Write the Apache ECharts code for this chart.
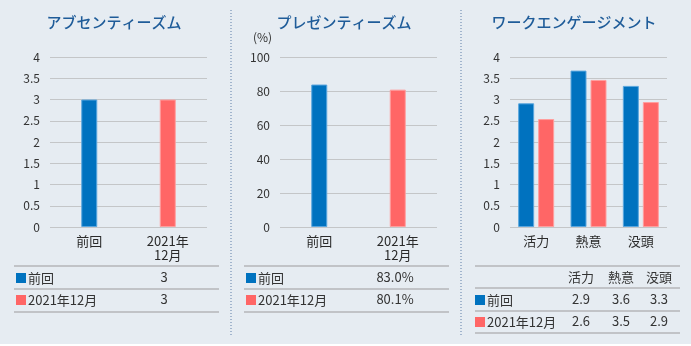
<!DOCTYPE html>
<html><head><meta charset="utf-8">
<script src="https://cdn.jsdelivr.net/npm/echarts@6/dist/echarts.min.js"></script>
<style>html,body{margin:0;padding:0;background:#fff;}#c{width:691px;height:346px;}</style>
</head><body><div id="c"></div>
<script>
// ---- data ----
const titles = ['アブセンティーズム', 'プレゼンティーズム', 'ワークエンゲージメント'];
const seriesNames = ['前回', '2021年12月'];
const absCategories = ['前回', '2021年\n12月'];
const absPrev = [3.0, null];
const absCur = [null, 3.0];
const absTable = ['3', '3'];
const preCategories = ['前回', '2021年\n12月'];
const prePrev = [83.8, null];
const preCur = [null, 80.8];
const preTable = ['83.0%', '80.1%'];
const engCategories = ['活力', '熱意', '没頭'];
const engPrev = [2.91, 3.68, 3.32];
const engCur = [2.54, 3.46, 2.94];
const engTablePrev = ['2.9', '3.6', '3.3'];
const engTableCur = ['2.6', '3.5', '2.9'];
const absTicks = [0, 4, 0.5];
const preTicks = [0, 100, 20];
const engTicks = [0, 4, 0.5];

const FONT = '"Noto Sans CJK JP", "Noto Sans", sans-serif';
const BLUE = '#0072bf', RED = '#ff6666';
const TXT = '#333333';
const chart = echarts.init(document.getElementById('c'));

const offsets = [0, 230, 460];
const grids = offsets.map(o => ({left: o + 50, width: 157, top: 57, height: 170}));
const cats = [absCategories, preCategories, engCategories];
const ticks = [absTicks, preTicks, engTicks];

const xAxes = cats.map((c, i) => ({
  type: 'category', gridIndex: i, data: c,
  axisLine: {show: false}, axisTick: {show: false},
  axisLabel: {color: '#2a2a2a', fontFamily: FONT, fontSize: 13, lineHeight: 14, margin: 7, interval: 0}
}));
const yAxes = ticks.map((t, i) => ({
  type: 'value', gridIndex: i, min: t[0], max: t[1], interval: t[2],
  axisLine: {show: false}, axisTick: {show: false},
  axisLabel: {color: TXT, fontFamily: FONT, fontSize: 12, margin: 10},
  splitLine: {lineStyle: {color: '#c4c6c8', width: 1}}
}));

function bar(name, data, i, color, border, extra) {
  return Object.assign({
    type: 'bar', name, data, xAxisIndex: i, yAxisIndex: i,
    barWidth: 16,
    itemStyle: {color, borderColor: border, borderWidth: 1}
  }, extra || {});
}
const series = [
  bar(seriesNames[0], absPrev, 0, BLUE, '#5aa6de', {barGap: '-100%'}),
  bar(seriesNames[1], absCur, 0, RED, '#ff9e9e', {barGap: '-100%'}),
  bar(seriesNames[0], prePrev, 1, BLUE, '#5aa6de', {barGap: '-100%'}),
  bar(seriesNames[1], preCur, 1, RED, '#ff9e9e', {barGap: '-100%'}),
  bar(seriesNames[0], engPrev, 2, BLUE, '#5aa6de', {barGap: '25%'}),
  bar(seriesNames[1], engCur, 2, RED, '#ff9e9e', {barGap: '25%'})
];

const g = [];
// titles
offsets.forEach((o, i) => {
  g.push({type: 'text', x: o + 114, y: 22, style: {
    text: titles[i], align: 'center', verticalAlign: 'middle', font: '500 15px ' + FONT, fill: '#1f5c99'}, z: 10});
});
// separators
[231, 461].forEach(x => g.push({type: 'line', shape: {x1: x, y1: 10, x2: x, y2: 335},
  style: {stroke: '#5f7fa8', lineWidth: 1, lineDash: [1, 2]}}));
// (%) label
g.push({type: 'text', x: 253, y: 37, style: {text: '(%)', font: '12px ' + FONT, fill: TXT, verticalAlign: 'middle'}});

function hline(x1, x2, y) {
  g.push({type: 'line', shape: {x1, y1: y, x2, y2: y}, style: {stroke: '#b4b6b8', lineWidth: 1.5}});
}
function legendRow(x, yc, color, label) {
  g.push({type: 'rect', shape: {x: x, y: yc - 5, width: 10, height: 10}, style: {fill: color}});
  g.push({type: 'text', x: x + 12, y: yc, style: {text: label, font: '13px ' + FONT, fill: TXT, verticalAlign: 'middle'}});
}
function cell(x, yc, t) {
  g.push({type: 'text', x, y: yc, style: {text: t, font: '13px ' + FONT, fill: TXT, align: 'center', verticalAlign: 'middle'}});
}
// tables 1 and 2
[[0, absTable, 164], [230, preTable, 165]].forEach(([o, vals, cx]) => {
  hline(o + 14, o + 219, 266); hline(o + 14, o + 219, 289); hline(o + 14, o + 219, 312);
  legendRow(o + 16, 278, BLUE, seriesNames[0]);
  legendRow(o + 16, 300, RED, seriesNames[1]);
  cell(o + cx, 277, vals[0]);
  cell(o + cx, 299, vals[1]);
});
// table 3
const o3 = 460, cxs = [581, 621, 659];
hline(o3 + 15, o3 + 220, 266); hline(o3 + 15, o3 + 220, 288); hline(o3 + 15, o3 + 220, 311); hline(o3 + 15, o3 + 220, 333);
engCategories.forEach((c, j) => cell(cxs[j], 277, c));
legendRow(o3 + 15, 300, BLUE, seriesNames[0]);
legendRow(o3 + 15, 322, RED, seriesNames[1]);
engTablePrev.forEach((v, j) => cell(cxs[j], 299, v));
engTableCur.forEach((v, j) => cell(cxs[j], 321, v));
// bottom white strip
g.push({type: 'rect', shape: {x: 0, y: 344, width: 691, height: 2}, style: {fill: '#ffffff'}});

chart.setOption({
  animation: false,
  backgroundColor: '#e6ecf2',
  textStyle: {fontFamily: FONT},
  grid: grids, xAxis: xAxes, yAxis: yAxes, series, graphic: g
});
</script></body></html>
